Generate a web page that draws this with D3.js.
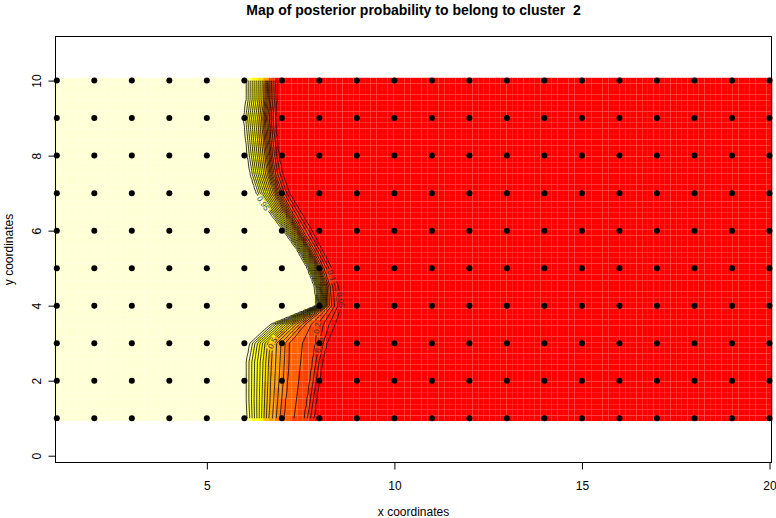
<!DOCTYPE html>
<html>
<head>
<meta charset="utf-8">
<script src="https://cdn.jsdelivr.net/npm/d3@7"></script>
<style>
  body { margin: 0; background: #fff; }
  text { font-family: "Liberation Sans", Arial, sans-serif; }
</style>
</head>
<body>
<div id="vis"></div>
<script>
// rows of the map (y) and, per row, the x where the posterior probability
// crosses 0.95, 0.5, 0.3, 0.2 and 0.05
const rowY = [1, 1.5, 2, 2.5, 3, 3.5, 4, 4.5, 5, 5.5, 6, 6.5, 7, 7.5, 8, 8.5, 9, 9.5, 10];
const x95 = [6.08, 6.05, 6.05, 6.05, 6.15, 6.70, 7.92, 7.88, 7.68, 7.40, 7.04, 6.66, 6.32, 6.16, 6.08, 6.03, 5.98, 6.05, 6.05];
const x50 = [6.65, 6.68, 6.70, 6.72, 6.75, 7.30, 8.12, 8.10, 7.93, 7.66, 7.36, 7.05, 6.78, 6.62, 6.55, 6.50, 6.46, 6.52, 6.53];
const x30 = [7.05, 7.10, 7.15, 7.18, 7.20, 7.62, 8.22, 8.21, 8.03, 7.76, 7.47, 7.18, 6.92, 6.75, 6.68, 6.63, 6.59, 6.64, 6.65];
const x20 = [7.60, 7.68, 7.75, 7.82, 7.90, 7.95, 8.32, 8.29, 8.12, 7.86, 7.56, 7.27, 7.00, 6.83, 6.75, 6.70, 6.66, 6.71, 6.72];
const x05 = [7.85, 7.92, 8.00, 8.08, 8.20, 8.42, 8.58, 8.50, 8.32, 8.06, 7.80, 7.50, 7.20, 7.02, 6.92, 6.86, 6.82, 6.86, 6.87];
const knotP = [0.95, 0.5, 0.3, 0.2, 0.05];

const contourLevels = [0.05, 0.1, 0.15, 0.2, 0.25, 0.3, 0.35, 0.4, 0.45, 0.5,
                       0.55, 0.6, 0.65, 0.7, 0.75, 0.8, 0.85, 0.9, 0.95];
const labelLevels = [0.95, 0.5, 0.2, 0.15, 0.1, 0.05];
const labelX = [6.5, 6.55, 7.75, 7.4, 8.2, 8.63];
const labelY = [6.74, 3.01, 3.41, 3.04, 4.74, 4.16];

// heat.colors(12)
const heatColors = ['#FF0000', '#FF2000', '#FF4000', '#FF6000', '#FF8000', '#FF9F00',
                    '#FFBF00', '#FFDF00', '#FFFF00', '#FFFF2A', '#FFFF80', '#FFFFD5'];

const siteX = [1, 2, 3, 4, 5, 6, 7, 8, 9, 10, 11, 12, 13, 14, 15, 16, 17, 18, 19, 20];
const siteY = [1, 2, 3, 4, 5, 6, 7, 8, 9, 10];
const xTicks = [5, 10, 15, 20];
const yTicks = [0, 2, 4, 6, 8, 10];

const W = 776, H = 518;
const x = d3.scaleLinear().domain([1, 20]).range([56.8, 769.5]);
const y = d3.scaleLinear().domain([1, 10]).range([418.2, 80.6]);
const color = d3.scaleQuantize().domain([0, 1]).range(heatColors);

const svg = d3.select('#vis').append('svg').attr('width', W).attr('height', H);

// probability surface from the crossing positions
const knotLines = [x95, x50, x30, x20, x05].map(a => d3.scaleLinear().domain(rowY).range(a).clamp(true));
function prob(px, py) {
    let k = knotLines.map(s => s(py));
    return d3.scaleLinear()
        .domain([k[0] - 0.12, ...k, k[4] + 0.25])
        .range([1, ...knotP, 0])
        .clamp(true)(px);
}

// image cells (127 x 61 grid over the sampled area)
const nxImg = 127, nyImg = 61;
const dxImg = 19 / (nxImg - 1), dyImg = 9 / (nyImg - 1);
let cells = [];
for (let j = 0; j < nyImg; j++) {
    for (let i = 0; i < nxImg; i++) {
        let gx = 1 + i * dxImg, gy = 1 + j * dyImg;
        cells.push({ gx, gy, p: prob(gx, gy) });
    }
}
svg.append('g').selectAll('rect')
    .data(cells)
    .join('rect')
    .attr('x', d => x(d.gx - dxImg / 2))
    .attr('y', d => y(d.gy + dyImg / 2))
    .attr('width', d => x(d.gx + dxImg / 2) - x(d.gx - dxImg / 2))
    .attr('height', d => y(d.gy - dyImg / 2) - y(d.gy + dyImg / 2))
    .attr('fill', d => color(d.p));

// contour lines
const step = 0.05, gx0 = 0.5, gy0 = 0.5, nx = 401, ny = 201;
let values = new Float64Array(nx * ny);
for (let j = 0; j < ny; j++)
    for (let i = 0; i < nx; i++)
        values[j * nx + i] = prob(gx0 + i * step, gy0 + j * step);
let contourData = d3.contours().size([nx, ny]).thresholds(contourLevels)(values);
let toPx = (cx, cy) => [x(gx0 + (cx - 0.5) * step), y(gy0 + (cy - 0.5) * step)];
let path = d3.geoPath(d3.geoTransform({
    point(cx, cy) { let p = toPx(cx, cy); this.stream.point(p[0], p[1]); }
}));

let defs = svg.append('defs');
defs.append('clipPath').attr('id', 'dataClip')
    .append('rect')
    .attr('x', x(1)).attr('y', y(10))
    .attr('width', x(20) - x(1)).attr('height', y(1) - y(10));

// place labels on the nearest point of their contour
let labels = labelLevels.map((lev, n) => {
    let c = contourData.find(d => Math.abs(d.value - lev) < 1e-9);
    let tx = x(labelX[n]), ty = y(labelY[n]);
    let best = null;
    c.coordinates.forEach(poly => poly.forEach(ring => {
        let pts = ring.map(p => toPx(p[0], p[1]));
        pts.forEach((p, i) => {
            let dd = (p[0] - tx) ** 2 + (p[1] - ty) ** 2;
            if (!best || dd < best.dd) {
                let a = pts[Math.max(0, i - 3)], b = pts[Math.min(pts.length - 1, i + 3)];
                best = { dd, px: p[0], py: p[1], ang: Math.atan2(b[1] - a[1], b[0] - a[0]) * 180 / Math.PI };
            }
        });
    }));
    let ang = best.ang;
    if (ang > 90) ang -= 180;
    if (ang <= -90) ang += 180;
    let text = String(lev);
    return { text, px: best.px, py: best.py, ang, w: text.length * 4.2 + 2 };
});

let mask = defs.append('mask').attr('id', 'labelGaps')
    .attr('maskUnits', 'userSpaceOnUse')
    .attr('x', 0).attr('y', 0).attr('width', W).attr('height', H);
mask.append('rect').attr('width', W).attr('height', H).attr('fill', 'white');
mask.selectAll('.gap')
    .data(labels)
    .join('rect')
    .attr('class', 'gap')
    .attr('x', d => -d.w / 2).attr('y', -3.5)
    .attr('width', d => d.w).attr('height', 7)
    .attr('fill', 'black')
    .attr('transform', d => `translate(${d.px},${d.py}) rotate(${d.ang})`);

svg.append('g')
    .attr('clip-path', 'url(#dataClip)')
    .append('g')
    .attr('mask', 'url(#labelGaps)')
    .selectAll('path')
    .data(contourData)
    .join('path')
    .attr('d', path)
    .attr('fill', 'none')
    .attr('stroke', 'black')
    .attr('stroke-width', 0.8);

svg.append('g').selectAll('text')
    .data(labels)
    .join('text')
    .attr('transform', d => `translate(${d.px},${d.py}) rotate(${d.ang})`)
    .attr('text-anchor', 'middle')
    .attr('dy', '0.35em')
    .attr('font-size', 8)
    .attr('fill', '#333')
    .text(d => d.text);

// sampling sites
let sites = siteY.flatMap(sy => siteX.map(sx => [sx, sy]));
svg.append('g').selectAll('circle')
    .data(sites)
    .join('circle')
    .attr('cx', d => x(d[0]))
    .attr('cy', d => y(d[1]))
    .attr('r', 3)
    .attr('fill', 'black');

// box
svg.append('rect')
    .attr('x', 55.5).attr('y', 36.5)
    .attr('width', 716).attr('height', 426)
    .attr('fill', 'none').attr('stroke', 'black');

// axes
svg.append('g')
    .attr('transform', 'translate(0,462.5)')
    .call(d3.axisBottom(x).tickValues(xTicks).tickSize(7).tickPadding(11.5).tickFormat(d3.format('d')))
    .call(g => g.select('.domain').remove())
    .call(g => g.selectAll('text').attr('font-size', 12).attr('fill', 'black')
        .attr('font-family', '"Liberation Sans", Arial, sans-serif'));

svg.append('g')
    .attr('transform', 'translate(55.5,0)')
    .call(d3.axisLeft(y).tickValues(yTicks).tickSize(7).tickFormat(d3.format('d')))
    .call(g => g.select('.domain').remove())
    .call(g => g.selectAll('text')
        .attr('x', null).attr('dy', null)
        .attr('text-anchor', 'middle')
        .attr('transform', 'translate(-15,0) rotate(-90)')
        .attr('font-size', 12).attr('fill', 'black')
        .attr('font-family', '"Liberation Sans", Arial, sans-serif'));

// titles
svg.append('text')
    .attr('x', 413.5).attr('y', 15)
    .attr('text-anchor', 'middle')
    .attr('font-size', 14).attr('font-weight', 'bold')
    .style('white-space', 'pre')
    .text('Map of posterior probability to belong to cluster  2');

svg.append('text')
    .attr('x', 413.5).attr('y', 515.5)
    .attr('text-anchor', 'middle')
    .attr('font-size', 12)
    .text('x coordinates');

svg.append('text')
    .attr('transform', 'translate(12.5,249.5) rotate(-90)')
    .attr('text-anchor', 'middle')
    .attr('font-size', 12)
    .text('y coordinates');
</script>
</body>
</html>
